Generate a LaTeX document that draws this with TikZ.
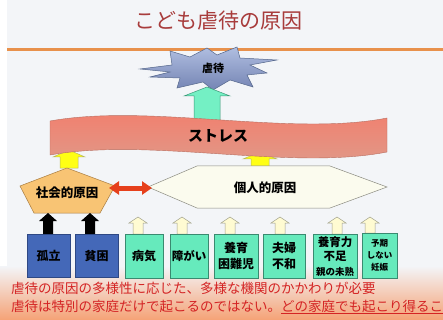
\documentclass[tikz,border=0pt]{standalone}
\usepackage{fontspec}
\setmainfont{Noto Sans CJK JP}
\usetikzlibrary{arrows.meta}
\definecolor{bg}{HTML}{F3F5F8}
\definecolor{titlecol}{HTML}{A83C3C}
\definecolor{orline}{HTML}{E8914C}
\definecolor{expltop}{HTML}{B0BEE0}
\definecolor{explbot}{HTML}{7484B4}
\definecolor{explline}{HTML}{56688C}
\definecolor{garrow}{HTML}{74F0C4}
\definecolor{garrowline}{HTML}{3C9878}
\definecolor{bantop}{HTML}{F47C6A}
\definecolor{banbot}{HTML}{DE9C8C}
\definecolor{banline}{HTML}{B86E60}
\definecolor{yel}{HTML}{FFFF14}
\definecolor{yelline}{HTML}{B8B860}
\definecolor{pentfill}{HTML}{F8C474}
\definecolor{pentline}{HTML}{A87C40}
\definecolor{redarr}{HTML}{E6401C}
\definecolor{hexfill}{HTML}{FBFBEE}
\definecolor{hexline}{HTML}{8A8A80}
\definecolor{bboxfill}{HTML}{4468B8}
\definecolor{bboxline}{HTML}{2E4884}
\definecolor{creamfill}{HTML}{FFFBD2}
\definecolor{creamline}{HTML}{A0A08C}
\definecolor{gboxfill}{HTML}{66EABC}
\definecolor{gboxline}{HTML}{3A8A70}
\definecolor{btextcol}{HTML}{D42424}
\definecolor{botor}{HTML}{F5A276}
% up block arrow: #1 style, #2 cx, #3 ytop, #4 yheadbase, #5 ybottom, #6 half shaft, #7 half head
\newcommand\blockup[7]{%
  \path[#1] (#2,#3) -- (#2+#7,#4) -- (#2+#6,#4) -- (#2+#6,#5) -- (#2-#6,#5) -- (#2-#6,#4) -- (#2-#7,#4) -- cycle;}
\begin{document}
\begin{tikzpicture}[x=1pt,y=-1pt,
  lbl/.style={font=\bfseries\fontsize{12}{16.5}\selectfont, align=center, inner sep=0pt},
  gbox/.style={draw=gboxline, fill=gboxfill, line width=0.6pt, minimum height=44pt, lbl},
  bbox/.style={draw=bboxline, fill=bboxfill, line width=0.6pt, minimum height=43pt, minimum width=43pt, lbl},
  creamarr/.style={draw=creamline, fill=creamfill, line width=0.5pt},
  blackarr/.style={fill=black},
  yelarr/.style={draw=yelline, fill=yel, line width=0.5pt},
  btext/.style={anchor=west, inner sep=0pt, text=btextcol, font=\fontsize{13.5}{15}\selectfont}]
\useasboundingbox (0,0) rectangle (443,320);
% background
\fill[white] (0,0) rectangle (443,320);
\fill[bg] (7,0) rectangle (443,320);
\shade[top color=bg, bottom color=botor] (0,266) rectangle (443,320);
% title and rule
\node[text=titlecol, font=\fontsize{21}{24}\selectfont, inner sep=0pt] (title) at (218,21) {こども虐待の原因};
\draw[orline, line width=3pt] (7,50) -- (443,50);
% explosion
\shade[top color=expltop, bottom color=explbot, draw=explline, line width=0.5pt]
  (140,69) -- (172,65) -- (170,51) -- (190,57) -- (207,48) -- (217,55) -- (237,47) -- (240,58)
  -- (277,60) -- (250,65) -- (267,73) -- (247,75) -- (253,87) -- (230,80) -- (213,90) -- (203,82)
  -- (177,88) -- (180,78) -- (150,77) -- (170,72) -- cycle;
\node[lbl, font=\bfseries\fontsize{11}{13}\selectfont] (gyakutai) at (213,68) {虐待};
% green arrow
\blockup{draw=garrowline, fill=garrow, line width=0.5pt}{207}{87}{96}{122}{13}{23}
% yellow arrows
\blockup{yelarr}{69}{150}{157}{168}{9}{16}
\blockup{yelarr}{260}{152}{159}{167}{9}{17}
% stress banner
\shade[top color=bantop, bottom color=banbot, draw=banline, line width=0.4pt]
  (50,121) .. controls (150,103) and (290,137) .. (387,118) -- (387,152)
  .. controls (290,171) and (150,137) .. (50,155) -- cycle;
\node[lbl, font=\bfseries\fontsize{15}{17}\selectfont] (stress) at (218,136) {ストレス};
% social cause pentagon
\draw[fill=pentfill, draw=pentline, line width=0.5pt] (67,168) -- (115,186) -- (100,213) -- (34,213) -- (20,186) -- cycle;
\node[lbl, font=\bfseries\fontsize{12.5}{14}\selectfont] (social) at (67,193) {社会的原因};
% individual cause hexagon
\draw[fill=hexfill, draw=hexline, line width=0.5pt] (148,187) -- (197,166) -- (330,166) -- (387,187) -- (330,208) -- (197,208) -- cycle;
\node[lbl, font=\bfseries\fontsize{12.5}{14}\selectfont] (individual) at (265,188) {個人的原因};
% red double arrow
\coordinate (ra) at (109,188);
\coordinate (rb) at (152,188);
\draw[redarr, line width=5pt, {Triangle[length=10pt,width=13pt]}-{Triangle[length=10pt,width=13pt]}] (ra) -- (rb);
% black arrows
\blockup{blackarr}{48}{213}{221}{234}{5}{9}
\blockup{blackarr}{90}{213}{221}{234}{5}{9}
% cream arrows
\blockup{creamarr}{138}{217}{223}{234}{5}{9}
\blockup{creamarr}{182}{217}{223}{234}{5}{9}
\blockup{creamarr}{230}{217}{223}{234}{5}{9}
\blockup{creamarr}{280}{217}{223}{234}{5}{9}
\blockup{creamarr}{337}{217}{223}{234}{5}{9}
\blockup{creamarr}{370}{217}{223}{233}{5}{9}
% blue boxes
\node[bbox] (koritsu) at (48.5,255.5) {孤立};
\node[bbox] (hinkon) at (96.5,255.5) {貧困};
% green boxes
\node[gbox, minimum width=38pt] (byoki) at (144,256) {病気};
\node[gbox, minimum width=38pt, font=\bfseries\fontsize{11.5}{14}\selectfont] (shogai) at (189,256) {障がい};
\node[gbox, minimum width=44pt] (konnan) at (236,256) {養育\\困難児};
\node[gbox, minimum width=42pt] (fuwa) at (284,256) {夫婦\\不和};
\node[gbox, minimum width=44pt, font=\bfseries\fontsize{11.5}{14.5}\selectfont] (busoku) at (335,256.5) {養育力\\不足\\{\fontsize{9.5}{11}\selectfont 親の未熟}};
\node[gbox, minimum width=35pt, minimum height=45pt, font=\bfseries\fontsize{8.5}{12}\selectfont] (ninshin) at (379.5,255.5) {予期\\しない\\妊娠};
% bottom text
\node[btext] (line1) at (11,288) {虐待の原因の多様性に応じた、多様な機関のかかわりが必要};
\node[btext] (line2) at (11,307) {虐待は特別の家庭だけで起こるのではない。\underline{どの家庭でも起こり得るこ}};
\end{tikzpicture}
\end{document}
